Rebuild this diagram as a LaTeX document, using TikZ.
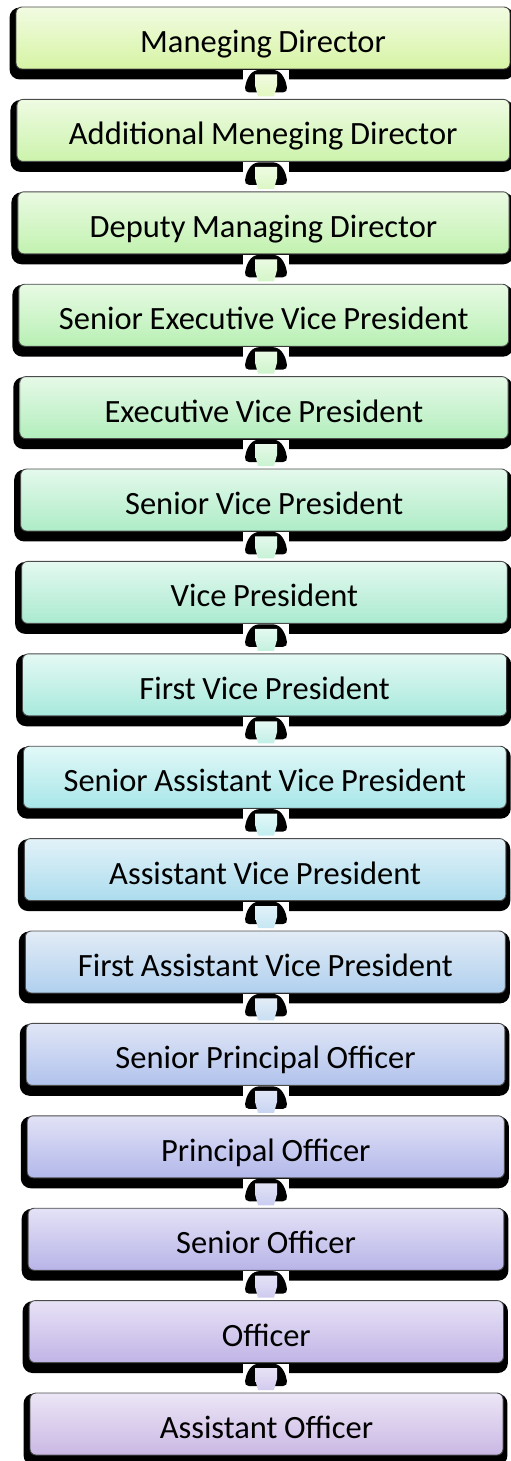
\documentclass[tikz,border=0pt]{standalone}
\usepackage{fontspec}
\setmainfont{Carlito}[WordSpace=0.9]
\usetikzlibrary{backgrounds,calc}

% face colours of each rank: light top, stronger bottom
\definecolor{top0}{HTML}{F2FBE2}\definecolor{bot0}{HTML}{D6F4A4}
\definecolor{top1}{HTML}{EEFBE2}\definecolor{bot1}{HTML}{CCF3AC}
\definecolor{top2}{HTML}{EAFAE2}\definecolor{bot2}{HTML}{C2F2B0}
\definecolor{top3}{HTML}{E8FAE4}\definecolor{bot3}{HTML}{B8F0B4}
\definecolor{top4}{HTML}{E6F9E8}\definecolor{bot4}{HTML}{B2EEBC}
\definecolor{top5}{HTML}{E4F9EC}\definecolor{bot5}{HTML}{AEECC6}
\definecolor{top6}{HTML}{E4F9F0}\definecolor{bot6}{HTML}{AAEAD0}
\definecolor{top7}{HTML}{E4F9F4}\definecolor{bot7}{HTML}{A8E9DC}
\definecolor{top8}{HTML}{E2F8F8}\definecolor{bot8}{HTML}{A8E6E8}
\definecolor{top9}{HTML}{E2F2F8}\definecolor{bot9}{HTML}{ACDCEE}
\definecolor{top10}{HTML}{E2ECF6}\definecolor{bot10}{HTML}{B0D0EE}
\definecolor{top11}{HTML}{E0E6F6}\definecolor{bot11}{HTML}{B0C2EC}
\definecolor{top12}{HTML}{E2E2F6}\definecolor{bot12}{HTML}{B2B8EA}
\definecolor{top13}{HTML}{E4E2F6}\definecolor{bot13}{HTML}{B8B4E8}
\definecolor{top14}{HTML}{E8E2F6}\definecolor{bot14}{HTML}{C0B4E6}
\definecolor{top15}{HTML}{ECE6F6}\definecolor{bot15}{HTML}{CAB8E4}

\tikzset{
  rank/.style 2 args={rounded corners=6pt, draw=black!70, line width=0.9pt,
    top color=#1, bottom color=#2, minimum height=62pt, inner sep=0pt,
    text height=29pt, text depth=0pt, font=\fontsize{32.5}{38}\selectfont},
  rankshadow/.style={fill=black, rounded corners=10pt},
  gapfill/.style={fill=white},
  archshadow/.style={fill=black, rounded corners=5pt},
}

\begin{document}
\begin{tikzpicture}[x=1pt, y=-1pt]
  \useasboundingbox (0,0) rectangle (511,1461);
  \clip (0,0) rectangle (511,1461);
  \coordinate (axis) at (266,0);

  % the sixteen ranks, top to bottom
  \foreach \t [count=\n from 0] in {Maneging Director, Additional Meneging Director,
      Deputy Managing Director, Senior Executive Vice President,
      Executive Vice President, Senior Vice President, Vice President,
      First Vice President, Senior Assistant Vice President,
      Assistant Vice President, First Assistant Vice President,
      Senior Principal Officer, Principal Officer, Senior Officer,
      Officer, Assistant Officer} {
    \pgfmathsetmacro{\lx}{16+14*\n/15}
    \pgfmathsetmacro{\rx}{510-7*\n/15}
    \pgfmathsetmacro{\cy}{38+92.4*\n}
    \node[rank={top\n}{bot\n}, minimum width={(\rx-\lx)*1pt}]
      (b\n) at ({(\lx+\rx)/2},\cy) {\t};
    \begin{pgfonlayer}{background}
      \fill[rankshadow] ([xshift=-6pt,yshift=-1pt]b\n.north west)
        rectangle ([xshift=4pt,yshift=-10pt]b\n.south east);
    \end{pgfonlayer}
  }

  % down arrows linking each rank to the next
  \foreach \n in {0,...,14} {
    \coordinate (c\n) at (b\n.south -| axis);
    \begin{scope}[shift={(c\n)}]
      \fill[gapfill] (-23,0.6) rectangle (23,11);
      \fill[archshadow] (-22,23) -- (-19,9) -- (-12,0.5) -- (12,0.5)
        -- (19,9) -- (22,23) -- cycle;
      \shade[top color=top\n, bottom color=bot\n!70!white]
        (-11,5) -- (11,5) -- (11,16) -- (8,27) -- (-8,27) -- (-11,16) -- cycle;
    \end{scope}
  }
\end{tikzpicture}
\end{document}
